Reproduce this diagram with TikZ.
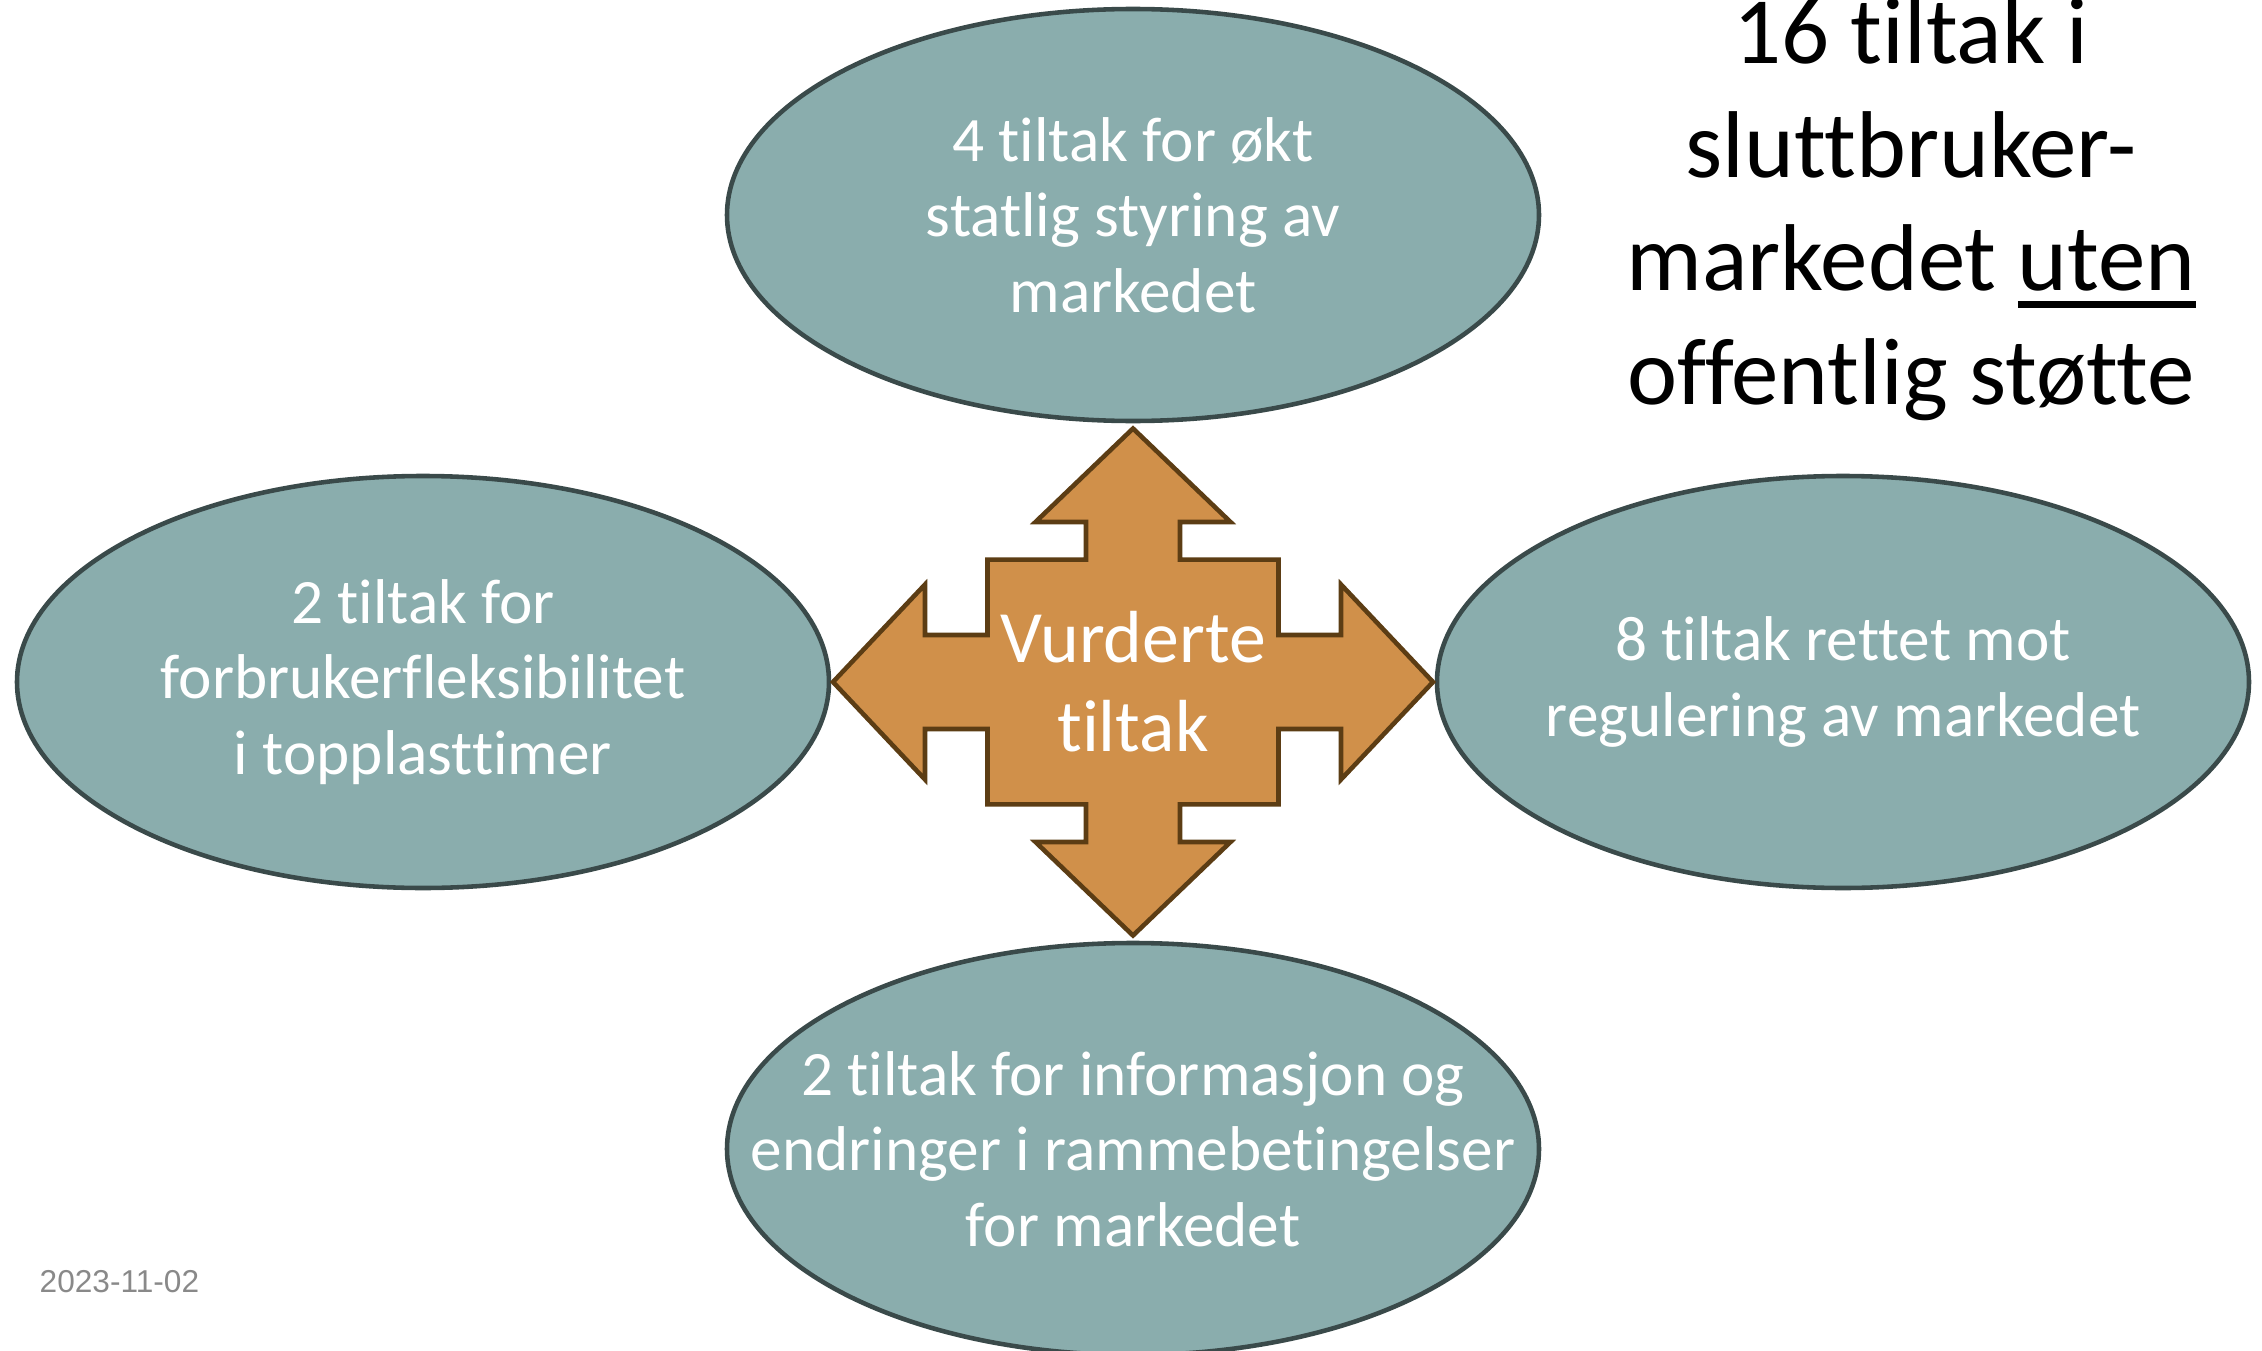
\documentclass[tikz,border=0pt]{standalone}
\usepackage{fontspec}
\setmainfont{Carlito}[Ligatures=NoCommon]
\newfontfamily\datefont{Liberation Sans}
\usepackage{tikz}
\usetikzlibrary{shapes.geometric}
\usepackage{xcolor}
\definecolor{bubbleTeal}{RGB}{138, 173, 173}
\definecolor{bubbleEdge}{RGB}{58, 74, 74}
\definecolor{arrowOrange}{RGB}{208, 144, 74}
\definecolor{arrowBrown}{RGB}{92, 61, 20}
\definecolor{dateGray}{RGB}{137, 137, 137}
\newsavebox{\ulbox}
\newcommand{\ulword}[1]{\sbox{\ulbox}{#1}\rlap{\rule[-5pt]{\wd\ulbox}{1.9pt}}\usebox{\ulbox}}

\begin{document}
\begin{tikzpicture}[
        bubble/.style={ellipse, draw=bubbleEdge, line width=1.3pt, fill=bubbleTeal,
            minimum width=8.12cm, minimum height=4.12cm, inner sep=0pt},
        bubbletext/.style={color=white, align=center, font=\fontsize{18}{21.5}\selectfont}
    ]
        \useasboundingbox (0,0) rectangle (22.62,-13.51);

        \node[bubble] (styring) at (11.33,-2.15) {};
        \node[bubbletext] (styringtext) at (styring) {4 tiltak for økt\\statlig styring av\\markedet};

        \node[bubble] (fleks) at (4.23,-6.82) {};
        \node[bubbletext] (flekstext) at (fleks) {2 tiltak for\\forbrukerfleksibilitet\\i topplasttimer};

        \node[bubble] (regul) at (18.43,-6.82) {};
        \node[bubbletext] (regultext) at (regul) {8 tiltak rettet mot\\regulering av markedet};

        \node[bubble] (info) at (11.33,-11.49) {};
        \node[bubbletext] (infotext) at (info) {2 tiltak for informasjon og\\endringer i rammebetingelser\\for markedet};

        \draw[fill=arrowOrange, draw=arrowBrown, line width=1.3pt, line join=miter, shift={(11.33,-6.82)}]
            (0,2.535) -- (0.975,1.6) -- (0.47,1.6) -- (0.47,1.224) -- (1.455,1.224) -- (1.455,0.47)
            -- (2.08,0.47) -- (2.08,0.975) -- (3.0,0) -- (2.08,-0.975) -- (2.08,-0.47) -- (1.455,-0.47)
            -- (1.455,-1.224) -- (0.47,-1.224) -- (0.47,-1.6) -- (0.975,-1.6) -- (0,-2.535)
            -- (-0.975,-1.6) -- (-0.47,-1.6) -- (-0.47,-1.224) -- (-1.455,-1.224) -- (-1.455,-0.47)
            -- (-2.08,-0.47) -- (-2.08,-0.975) -- (-3.0,0) -- (-2.08,0.975) -- (-2.08,0.47) -- (-1.455,0.47)
            -- (-1.455,1.224) -- (-0.47,1.224) -- (-0.47,1.6) -- (-0.975,1.6) -- cycle;
        \node[color=white, align=center, font=\fontsize{21}{25.4}\selectfont] (vurdert) at (11.33,-6.82) {Vurderte\\tiltak};

        \node[align=center, font=\fontsize{27}{32.3}\selectfont] (title) at (19.11,-2.09) {16 tiltak i\\sluttbruker-\\markedet \ulword{uten}\\offentlig støtte};

        \node[color=dateGray, font=\datefont\fontsize{9}{11}\selectfont, anchor=base west, inner sep=0pt] (date) at (0.39,-12.92) {2023-11-02};
    \end{tikzpicture}
\end{document}
